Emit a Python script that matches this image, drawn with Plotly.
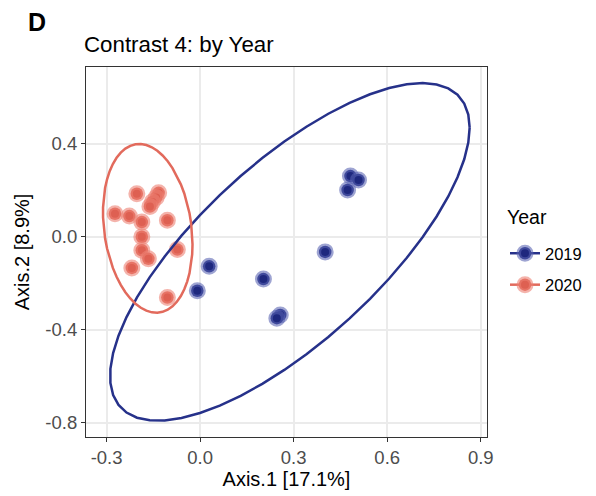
import numpy as np
import plotly.graph_objects as go

# PCoA sample scores, grouped by sampling year
groups = ["2019", "2020"]
axis1_2019 = [0.482, 0.508, 0.473, 0.401, 0.203, 0.257, 0.246, 0.029, -0.009]
axis2_2019 = [0.260, 0.243, 0.200, -0.066, -0.183, -0.337, -0.351, -0.128, -0.233]
axis1_2020 = [-0.203, -0.133, -0.141, -0.153, -0.161, -0.273, -0.227, -0.187,
              -0.105, -0.187, -0.187, -0.166, -0.219, -0.073, -0.105]
axis2_2020 = [0.184, 0.188, 0.168, 0.149, 0.129, 0.098, 0.088, 0.062,
              0.070, -0.001, -0.059, -0.096, -0.135, -0.056, -0.262]

x_ticks = [-0.3, 0.0, 0.3, 0.6, 0.9]
y_ticks = [-0.8, -0.4, 0.0, 0.4]

FONT = "Liberation Sans, Arial, sans-serif"

styles = {
    "2019": dict(line="#26318A", fill="rgb(30,40,126)", ring="rgba(88,98,178,0.58)"),
    "2020": dict(line="#E26A5C", fill="rgb(222,96,82)", ring="rgba(236,128,115,0.60)"),
}


def conf_ellipse(x, y, level=0.95, segments=51):
    """95% confidence ellipse from the sample mean and covariance."""
    X = np.column_stack([x, y])
    n = X.shape[0]
    dfn, dfd = 2, n - 1
    # F(2, d) quantile has a closed form
    fq = dfd / 2.0 * ((1 - level) ** (-2.0 / dfd) - 1)
    radius = np.sqrt(dfn * fq)
    center = X.mean(axis=0)
    shape = np.cov(X, rowvar=False)
    R = np.linalg.cholesky(shape).T
    ang = np.arange(segments + 1) * 2 * np.pi / segments
    circle = np.column_stack([np.cos(ang), np.sin(ang)])
    ell = center + radius * (circle @ R)
    return ell[:, 0], ell[:, 1]


data = {
    "2019": (axis1_2019, axis2_2019),
    "2020": (axis1_2020, axis2_2020),
}

fig = go.Figure()

for g in groups:
    xs, ys = data[g]
    st = styles[g]
    fig.add_trace(go.Scatter(
        x=xs, y=ys, mode="markers", showlegend=False, hoverinfo="skip",
        marker=dict(size=12.5, color=st["fill"], line=dict(width=4.5, color=st["ring"])),
    ))

for g in groups:
    xs, ys = data[g]
    st = styles[g]
    ex, ey = conf_ellipse(xs, ys)
    fig.add_trace(go.Scatter(
        x=ex, y=ey, mode="lines", showlegend=False, hoverinfo="skip",
        line=dict(color=st["line"], width=2.5),
    ))

# legend keys: point over ellipse line
for g in groups:
    st = styles[g]
    fig.add_trace(go.Scatter(
        x=[None], y=[None], mode="lines+markers", name=g, legendgroup=g,
        line=dict(color=st["line"], width=2.5),
        marker=dict(size=12.5, color=st["fill"], line=dict(width=4.5, color=st["ring"])),
    ))

axis_common = dict(
    showgrid=True, gridcolor="#EBEBEB", gridwidth=1.5,
    showline=True, linecolor="#333333", linewidth=1.2, mirror=True,
    ticks="outside", ticklen=4, tickwidth=1.2, tickcolor="#333333",
    tickfont=dict(family=FONT, size=18.5, color="#4D4D4D"),
    zeroline=False, automargin=False,
)

fig.update_xaxes(
    range=[-0.366, 0.92], tickvals=x_ticks, ticktext=[f"{v:.1f}" for v in x_ticks],
    title=dict(text="Axis.1 [17.1%]", font=dict(family=FONT, size=20, color="black"), standoff=4),
    **axis_common,
)
fig.update_yaxes(
    range=[-0.862, 0.729], tickvals=y_ticks, ticktext=[f"{v:.1f}" for v in y_ticks],
    title=dict(text="Axis.2 [8.9%]", font=dict(family=FONT, size=20, color="black"), standoff=10),
    **axis_common,
)

plot_w = 596 - 86 - 109
plot_h = 496 - 67 - 59


def px_x(v):
    return (v - 86) / plot_w


def px_y(v):
    return (496 - 59 - v) / plot_h


fig.update_layout(
    width=596, height=496,
    margin=dict(l=86, r=109, t=67, b=59, autoexpand=False),
    paper_bgcolor="white", plot_bgcolor="white",
    font=dict(family=FONT, color="black"),
    legend=dict(
        font=dict(family=FONT, size=16.5, color="black"),
        x=px_x(505), xanchor="left", y=px_y(236), yanchor="top",
        tracegroupgap=7, bgcolor="rgba(0,0,0,0)",
    ),
    annotations=[
        dict(text="<b>D</b>", x=px_x(26), y=px_y(22), xref="paper", yref="paper", showarrow=False,
             font=dict(family=FONT, size=25, color="black"), xanchor="left", yanchor="middle"),
        dict(text="Contrast 4: by Year", x=px_x(82), y=px_y(45), xref="paper", yref="paper",
             showarrow=False, font=dict(family=FONT, size=22.3, color="black"),
             xanchor="left", yanchor="middle"),
        dict(text="Year", x=px_x(505), y=px_y(217), xref="paper", yref="paper", showarrow=False,
             font=dict(family=FONT, size=19.5, color="black"), xanchor="left", yanchor="middle"),
    ],
)

fig.write_html("out.html")
